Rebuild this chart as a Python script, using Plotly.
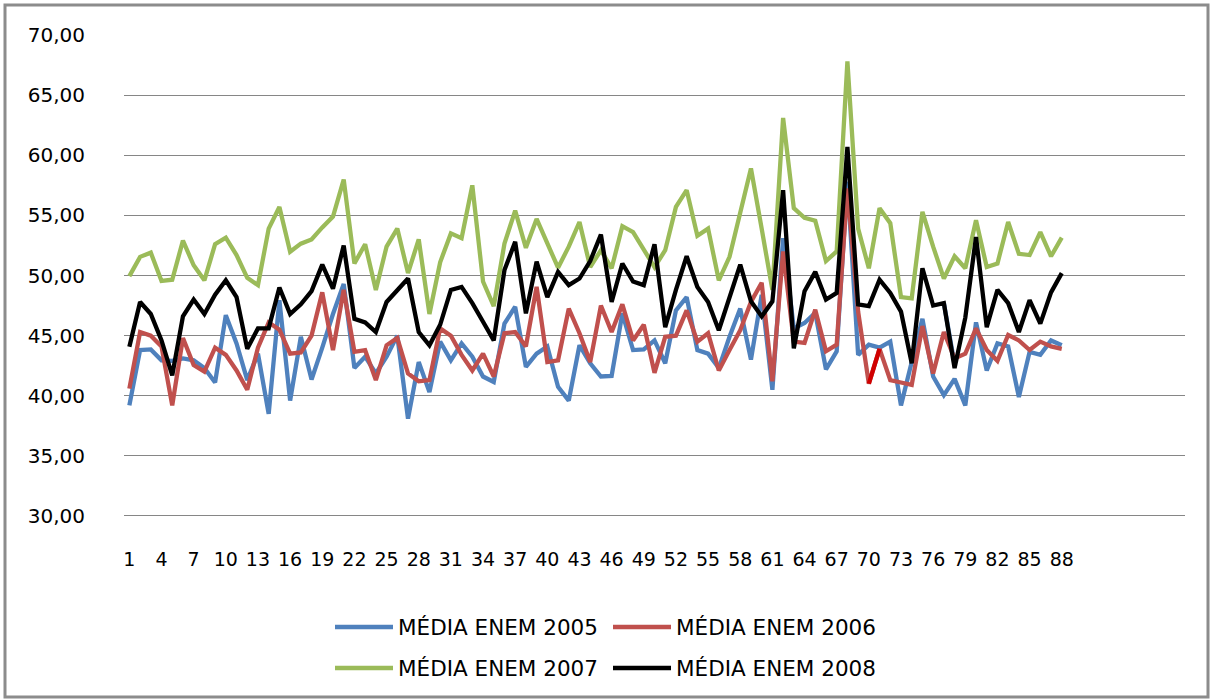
import plotly.graph_objects as go

categories = list(range(1, 89))
tick_labels = [str(v) for v in range(1, 89, 3)]

media_2005 = [39.2, 43.8, 43.85, 42.95, 42.9, 43.1, 42.95, 42.3, 41.1, 46.7,
              44.35, 41.3, 43.5, 38.5, 47.95, 39.6, 44.9, 41.35, 44.0, 46.8,
              49.3, 42.3, 43.25, 41.85, 43.25, 45.0, 38.1, 42.8, 40.3, 44.5,
              42.95, 44.35, 43.25, 41.6, 41.15, 46.0, 47.4, 42.4, 43.5, 44.1,
              40.75, 39.6, 44.2, 42.7, 41.6, 41.65, 46.85, 43.8, 43.85, 44.6,
              42.7, 47.1, 48.2, 43.8, 43.5, 42.3, 44.9, 47.25, 43.0, 48.4,
              40.5, 53.1, 45.6, 46.05, 46.9, 42.2, 43.7, 57.8, 43.4, 44.25,
              44.0, 44.5, 39.2, 42.7, 46.4, 41.6, 40.05, 41.4, 39.2, 46.1,
              42.1, 44.35, 44.1, 39.9, 43.65, 43.4, 44.6, 44.2]

media_2006 = [40.6, 45.3, 45.0, 44.1, 39.2, 44.8, 42.55, 42.0, 44.0, 43.4,
              42.1, 40.5, 44.0, 46.1, 45.5, 43.5, 43.6, 45.0, 48.6, 43.8,
              48.8, 43.65, 43.8, 41.3, 44.2, 44.8, 41.85, 41.2, 41.3, 45.6,
              45.0, 43.4, 42.1, 43.5, 41.6, 45.2, 45.3, 44.1, 49.05, 42.8,
              42.95, 47.25, 45.2, 42.8, 47.5, 45.3, 47.6, 44.6, 45.9, 41.9,
              44.9, 45.0, 47.1, 44.5, 45.2, 42.1, 43.8, 45.45, 47.8, 49.4,
              41.2, 52.0, 44.5, 44.4, 47.15, 43.7, 44.25, 57.25, 47.0, 41.0,
              43.9, 41.3, 41.1, 40.9, 45.8, 41.85, 45.3, 43.1, 43.5, 45.6,
              43.8, 42.9, 45.05, 44.6, 43.8, 44.5, 44.1, 43.9]

media_2007 = [49.95, 51.55, 51.9, 49.55, 49.65, 52.9, 50.85, 49.6, 52.6, 53.15,
              51.7, 49.8, 49.2, 53.9, 55.7, 51.97, 52.65, 53.0, 54.0, 54.9,
              57.98, 51.0, 52.6, 48.8, 52.4, 53.9, 50.2, 53.0, 46.8, 51.1,
              53.5, 53.1, 57.5, 49.5, 47.45, 52.65, 55.4, 52.3, 54.7, 52.65,
              50.65, 52.4, 54.45, 50.7, 52.1, 50.6, 54.1, 53.6, 52.1, 50.7,
              52.1, 55.7, 57.1, 53.3, 53.9, 49.6, 51.55, 55.4, 58.9, 53.9,
              48.8, 63.1, 55.6, 54.8, 54.55, 51.2, 52.0, 67.8, 53.9, 50.6,
              55.6, 54.35, 48.2, 48.1, 55.3, 52.4, 49.75, 51.6, 50.6, 54.6,
              50.7, 51.0, 54.45, 51.8, 51.7, 53.6, 51.6, 53.15]

media_2008 = [44.07, 47.8, 46.8, 44.6, 41.7, 46.6, 48.0, 46.8, 48.4, 49.6,
              48.2, 43.9, 45.6, 45.6, 49.0, 46.8, 47.6, 48.7, 50.9, 48.9,
              52.5, 46.4, 46.1, 45.3, 47.8, 48.8, 49.75, 45.3, 44.2, 45.9,
              48.8, 49.05, 47.7, 46.15, 44.6, 50.45, 52.8, 46.85, 51.15, 48.2,
              50.3, 49.2, 49.75, 51.2, 53.4, 47.8, 51.0, 49.5, 49.2, 52.6,
              45.7, 48.8, 51.6, 49.05, 47.8, 45.45, 48.2, 50.9, 47.85, 46.6,
              47.85, 57.1, 43.95, 48.7, 50.3, 48.0, 48.55, 60.7, 47.6, 47.45,
              49.65, 48.55, 47.0, 42.7, 50.6, 47.5, 47.7, 42.3, 46.5, 53.2,
              45.7, 48.8, 47.7, 45.3, 47.95, 46.0, 48.6, 50.2]

# short extra segments visible in the picture
extra_2005_x = [77, 78]
extra_2005_y = [47.7, 42.6]
extra_2006_x = [70, 71]
extra_2006_y = [41.0, 43.9]

series = [
    ("MÉDIA ENEM 2005", media_2005, "#4F81BD", "legend"),
    ("MÉDIA ENEM 2006", media_2006, "#C0504D", "legend"),
    ("MÉDIA ENEM 2007", media_2007, "#9BBB59", "legend2"),
    ("MÉDIA ENEM 2008", media_2008, "#000000", "legend2"),
]

LW = 4.3
fig = go.Figure()
for name, vals, color, lg in series:
    fig.add_trace(go.Scatter(x=categories, y=vals, mode="lines", name=name,
                             line=dict(color=color, width=LW), legend=lg))
    if name.endswith("2005"):
        fig.add_trace(go.Scatter(x=extra_2005_x, y=extra_2005_y, mode="lines",
                                 line=dict(color=color, width=LW), showlegend=False))
    if name.endswith("2006"):
        fig.add_trace(go.Scatter(x=extra_2006_x, y=extra_2006_y, mode="lines",
                                 line=dict(color="#D00000", width=LW), showlegend=False))

W, H = 1215, 700
L, R, T, B = 124, 30, 35, 184
pw, ph = W - L - R, H - T - B

def px(x):
    return (x - L) / pw

def py(y):
    return (H - B - y) / ph

fig.update_layout(
    width=W, height=H,
    margin=dict(l=L, r=R, t=T, b=B),
    paper_bgcolor="white", plot_bgcolor="white",
    separators=",.",
    font=dict(family="DejaVu Sans", size=20, color="#000000"),
    xaxis=dict(range=[0.5, 99.5], tickmode="array",
               tickvals=list(range(1, 89, 3)), ticktext=tick_labels,
               tickangle=0, showgrid=False, zeroline=False,
               showline=False, ticks="", ticklabelstandoff=30,
               tickfont=dict(family="DejaVu Sans", size=19)),
    yaxis=dict(range=[30, 70], dtick=5, tickformat=".2f",
               showgrid=True, gridcolor="#868686", gridwidth=1,
               zeroline=False, showline=False, ticks="",
               ticklabelstandoff=38,
               tickfont=dict(family="DejaVu Sans", size=20)),
    legend=dict(orientation="h", x=px(330), xanchor="left", y=py(627), yanchor="middle",
                entrywidth=205, itemwidth=58, font=dict(size=21.5),
                bgcolor="rgba(0,0,0,0)"),
    legend2=dict(orientation="h", x=px(330), xanchor="left", y=py(668), yanchor="middle",
                 entrywidth=205, itemwidth=58, font=dict(size=21.5),
                 bgcolor="rgba(0,0,0,0)"),
    shapes=[
        dict(type="line", xref="paper", yref="y", x0=0, x1=1, y0=30, y1=30,
             line=dict(color="#868686", width=2)),
        dict(type="rect", xref="paper", yref="paper",
             x0=px(5), x1=px(1208), y0=py(697), y1=py(5),
             line=dict(color="#8C8C8C", width=3), fillcolor="rgba(0,0,0,0)", layer="above"),
    ],
)

fig.write_html("out.html", config={"displayModeBar": False},
               post_script="document.body.style.margin='0px';")
